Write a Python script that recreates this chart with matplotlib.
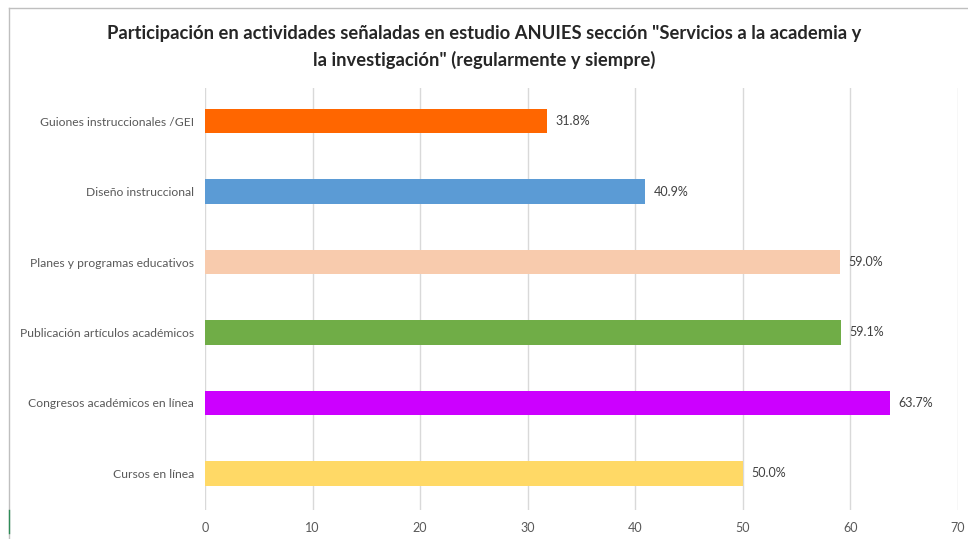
import matplotlib
matplotlib.use("Agg")
import matplotlib.pyplot as plt
from matplotlib.lines import Line2D

categories = ["Cursos en línea", "Congresos académicos en línea", "Publicación artículos académicos",
              "Planes y programas educativos", "Diseño instruccional", "Guiones instruccionales /GEI"]
values = [50.0, 63.7, 59.1, 59.0, 40.9, 31.8]
colors = ["#FFD966", "#CC00FF", "#70AD47", "#F8CBAD", "#5B9BD5", "#FF6600"]
xticks = [0, 10, 20, 30, 40, 50, 60, 70]
title = 'Participación en actividades señaladas en estudio ANUIES sección "Servicios a la academia y\nla investigación" (regularmente y siempre)'

plt.rcParams['font.family'] = ['Lato', 'DejaVu Sans']

fig = plt.figure(figsize=(9.68, 5.39), dpi=100)
ax = fig.add_axes([205/968, 1-510/539, (958-205)/968, (510-88)/539])

y = list(range(len(categories)))
ax.barh(y, values, height=0.35, color=colors, zorder=3)
for yi, v in zip(y, values):
    ax.text(v + 0.8, yi, f"{v:.1f}%", va="center", ha="left", fontsize=9, color="#404040")

ax.set_xlim(0, 70)
ax.set_ylim(-0.52, 5.47)
ax.set_xticks(xticks)
ax.set_xticklabels([str(t) for t in xticks])
ax.set_yticks(y)
ax.set_yticklabels(categories)
ax.tick_params(axis='both', length=0, colors="#595959", labelsize=9)
ax.tick_params(axis='y', labelsize=8.7, pad=8)
ax.tick_params(axis='x', pad=9)
ax.grid(axis='x', color="#D9D9D9", linewidth=1, zorder=0)
for s in ax.spines.values():
    s.set_visible(False)

fig.text(0.5, 1-47/539, title, ha="center", va="center", fontsize=13.2, fontweight="bold",
         color="#262626", linespacing=1.55)

# outer frame lines
fig.add_artist(Line2D([9/968, 1], [1-8/539, 1-8/539], color="#BFBFBF", lw=1))
fig.add_artist(Line2D([9/968, 9/968], [0, 1-8/539], color="#BFBFBF", lw=1))
fig.add_artist(Line2D([9/968, 9/968], [1-533/539, 1-510/539], color="#2E8B57", lw=1))

fig.savefig("out.png", dpi=100)
